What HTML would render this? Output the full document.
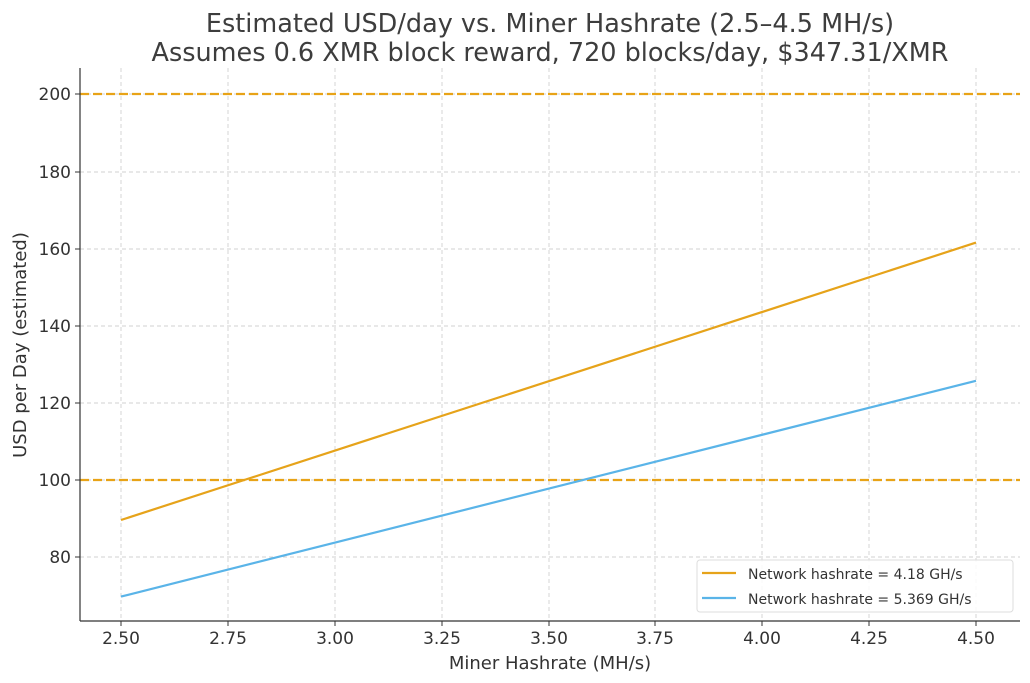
<!DOCTYPE html>
<html><head><meta charset="utf-8"><style>
html,body{margin:0;padding:0;background:#fff;}
svg{display:block;font-family:"DejaVu Sans","Liberation Sans",sans-serif;}
</style></head><body>
<svg width="1030" height="683" viewBox="0 0 1030 683" xmlns="http://www.w3.org/2000/svg">
<rect width="1030" height="683" fill="#fff"/>
<text x="550" y="32" text-anchor="middle" font-size="25.5" fill="#3d3d3d">Estimated USD/day vs. Miner Hashrate (2.5–4.5 MH/s)</text>
<text x="550" y="61" text-anchor="middle" font-size="25.5" fill="#3d3d3d">Assumes 0.6 XMR block reward, 720 blocks/day, $347.31/XMR</text>
<g stroke="#d0d0d0" stroke-width="0.9" stroke-dasharray="4,3">
<line x1="121" y1="68" x2="121" y2="621"/><line x1="228" y1="68" x2="228" y2="621"/><line x1="335" y1="68" x2="335" y2="621"/><line x1="442" y1="68" x2="442" y2="621"/><line x1="549" y1="68" x2="549" y2="621"/><line x1="655" y1="68" x2="655" y2="621"/><line x1="762" y1="68" x2="762" y2="621"/><line x1="869" y1="68" x2="869" y2="621"/><line x1="976" y1="68" x2="976" y2="621"/>
<line x1="80" y1="557" x2="1020" y2="557"/><line x1="80" y1="480" x2="1020" y2="480"/><line x1="80" y1="403" x2="1020" y2="403"/><line x1="80" y1="326" x2="1020" y2="326"/><line x1="80" y1="249" x2="1020" y2="249"/><line x1="80" y1="172" x2="1020" y2="172"/><line x1="80" y1="94" x2="1020" y2="94"/>
</g>
<g stroke="#e8a317" stroke-width="2.2" stroke-dasharray="9,4">
<line x1="80" y1="94" x2="1020" y2="94"/><line x1="80" y1="480" x2="1020" y2="480"/>
</g>
<line x1="121" y1="520" x2="976" y2="242.6" stroke="#e6a31a" stroke-width="2.2"/>
<line x1="121" y1="596.6" x2="976" y2="380.8" stroke="#5ab4e8" stroke-width="2.2"/>
<g stroke="#333" stroke-width="1.2"><line x1="80" y1="68" x2="80" y2="621"/><line x1="80" y1="621" x2="1020" y2="621"/></g>
<g stroke="#333" stroke-width="1">
<line x1="121" y1="621" x2="121" y2="626"/><line x1="228" y1="621" x2="228" y2="626"/><line x1="335" y1="621" x2="335" y2="626"/><line x1="442" y1="621" x2="442" y2="626"/><line x1="549" y1="621" x2="549" y2="626"/><line x1="655" y1="621" x2="655" y2="626"/><line x1="762" y1="621" x2="762" y2="626"/><line x1="869" y1="621" x2="869" y2="626"/><line x1="976" y1="621" x2="976" y2="626"/>
<line x1="75" y1="557" x2="80" y2="557"/><line x1="75" y1="480" x2="80" y2="480"/><line x1="75" y1="403" x2="80" y2="403"/><line x1="75" y1="326" x2="80" y2="326"/><line x1="75" y1="249" x2="80" y2="249"/><line x1="75" y1="172" x2="80" y2="172"/><line x1="75" y1="94" x2="80" y2="94"/>
</g>
<g font-size="17" fill="#333" text-anchor="middle">
<text x="121" y="644">2.50</text><text x="228" y="644">2.75</text><text x="335" y="644">3.00</text><text x="442" y="644">3.25</text><text x="549" y="644">3.50</text><text x="655" y="644">3.75</text><text x="762" y="644">4.00</text><text x="869" y="644">4.25</text><text x="976" y="644">4.50</text>
</g>
<g font-size="17" fill="#333" text-anchor="end">
<text x="71" y="563">80</text><text x="71" y="486">100</text><text x="71" y="409">120</text><text x="71" y="332">140</text><text x="71" y="255">160</text><text x="71" y="178">180</text><text x="71" y="100">200</text>
</g>
<text x="550" y="669" text-anchor="middle" font-size="18" fill="#333">Miner Hashrate (MH/s)</text>
<text transform="translate(26,345) rotate(-90)" text-anchor="middle" font-size="18" fill="#333">USD per Day (estimated)</text>
<rect x="697" y="560" width="316" height="52" rx="3" fill="#fff" fill-opacity="0.85" stroke="#ddd"/>
<line x1="702" y1="573" x2="736" y2="573" stroke="#e6a31a" stroke-width="2.2"/>
<line x1="702" y1="598" x2="736" y2="598" stroke="#5ab4e8" stroke-width="2.2"/>
<g font-size="14" fill="#333"><text x="748" y="579">Network hashrate = 4.18 GH/s</text><text x="748" y="604">Network hashrate = 5.369 GH/s</text></g>
</svg>
</body></html>
